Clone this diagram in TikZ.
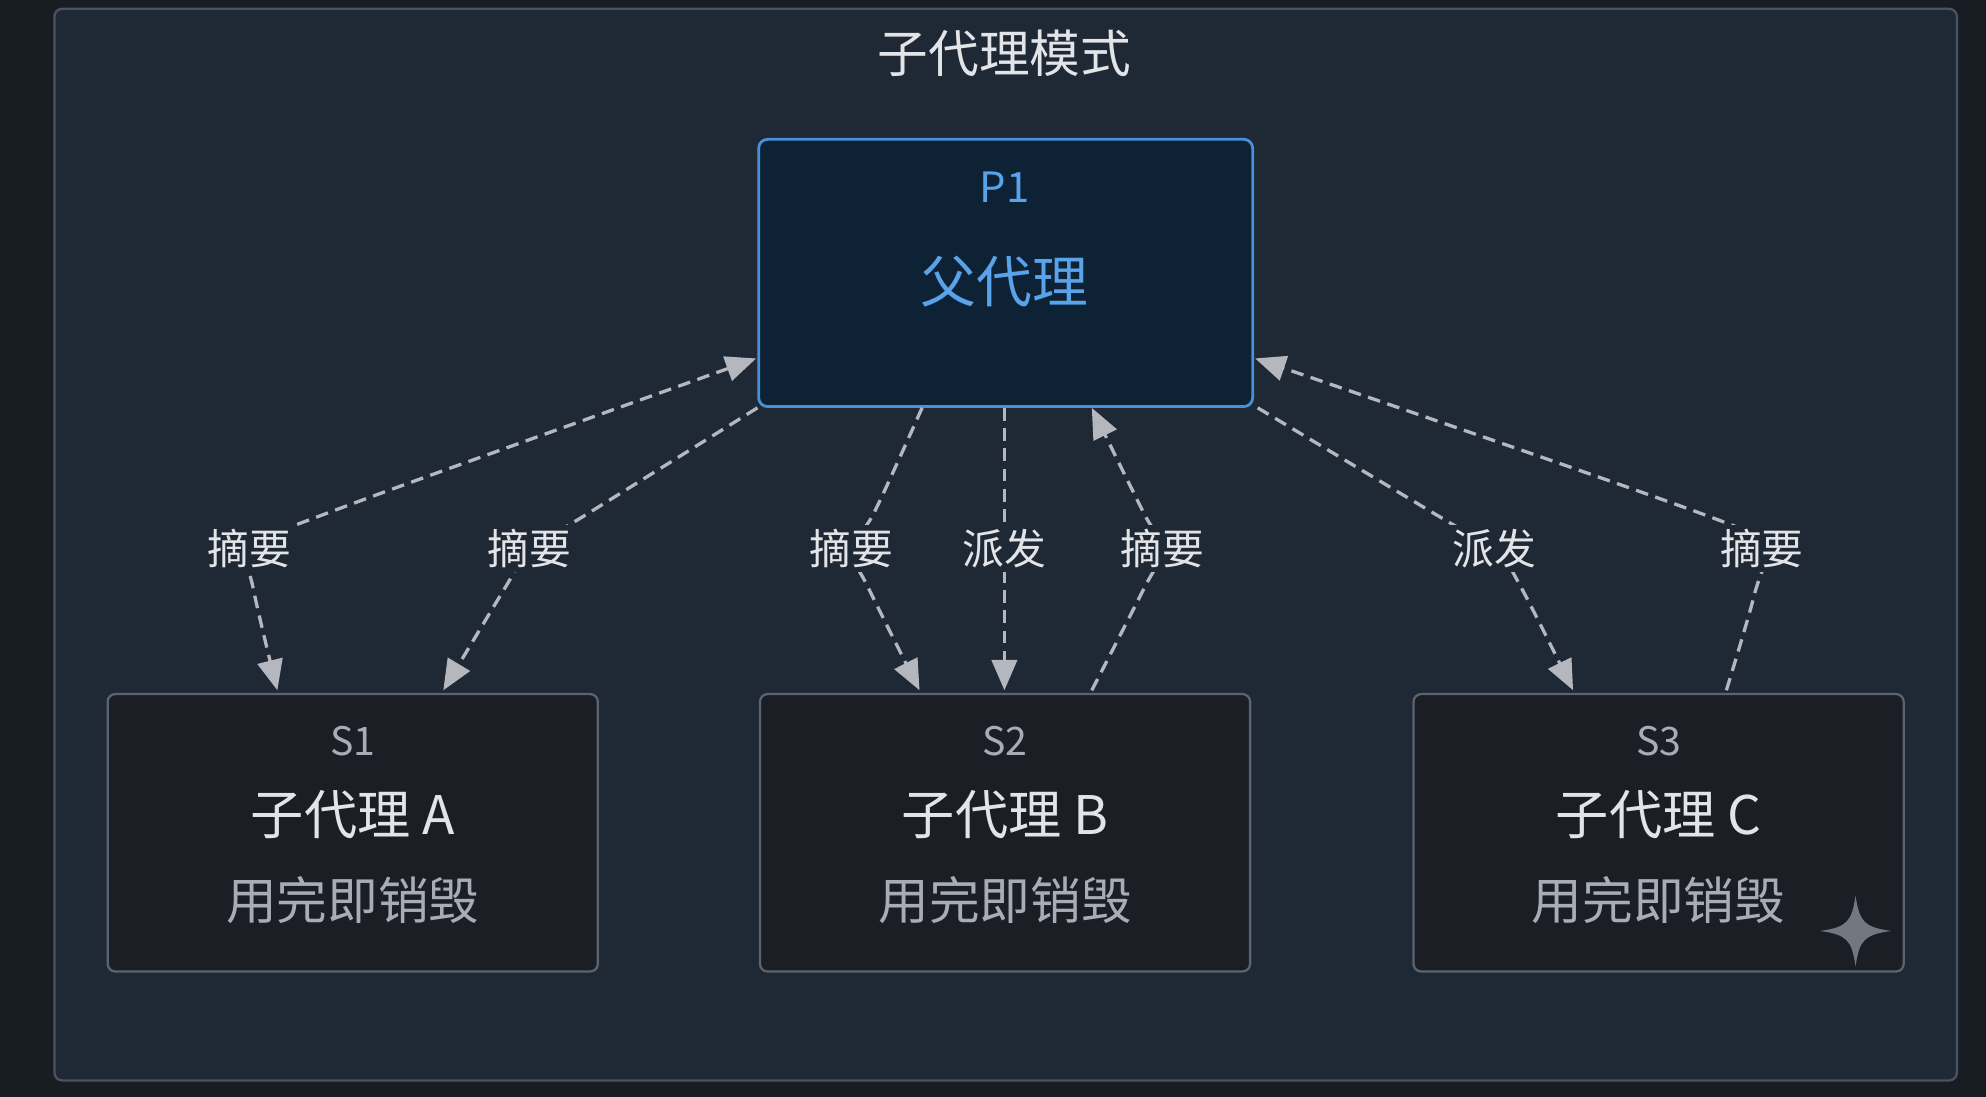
\documentclass[tikz,border=0pt]{standalone}
\usepackage{fontspec}
\setmainfont{Noto Sans CJK SC}
\usetikzlibrary{arrows.meta,shapes.geometric}
\definecolor{bgout}{HTML}{181D24}
\definecolor{frame}{HTML}{1F2935}
\definecolor{frameline}{HTML}{4A5361}
\definecolor{pfill}{HTML}{0E2236}
\definecolor{pline}{HTML}{4A90D9}
\definecolor{ptext}{HTML}{5AA2EA}
\definecolor{sfill}{HTML}{1B1F25}
\definecolor{sline}{HTML}{5A6370}
\definecolor{edge}{HTML}{B4B8BE}
\definecolor{txt}{HTML}{E2E4E8}
\definecolor{sub}{HTML}{A8ADB5}
\tikzset{
 sbox/.style={draw=sline,line width=1.8pt,fill=sfill,rounded corners=6pt},
 edg/.style={draw=edge,line width=2.6pt,dash pattern=on 10pt off 6pt,-{Triangle[length=24pt,width=20pt]}},
 edgb/.style={edg,{Triangle[length=24pt,width=20pt]}-{Triangle[length=24pt,width=20pt]}},
 lbl/.style={fill=frame,text=txt,font=\fontsize{33}{35}\selectfont,inner sep=3pt},
}
\begin{document}
\begin{tikzpicture}[x=1pt,y=-1pt]
\fill[bgout] (0,0) rectangle (1568,866);
\useasboundingbox (0,0) rectangle (1568,866);
\draw[frameline,line width=1.8pt,fill=frame,rounded corners=6pt] (43,7) rectangle (1545,853);
\node[text=txt,font=\fontsize{40}{42}\selectfont] (title) at (793,42) {子代理模式};
\draw[pline,line width=2.2pt,fill=pfill,rounded corners=7pt] (599,110) rectangle (989,321);
\node[text=ptext,font=\fontsize{33}{35}\selectfont] (p1t) at (793,148) {P1};
\node[text=ptext,font=\fontsize{44}{46}\selectfont] (p1) at (793,222) {父代理};
\foreach \n/\x/\l in {1/85/A,2/600/B,3/1116/C}{
 \draw[sbox] (\x,548) rectangle ++(387,219);
 \node[text=sub,font=\fontsize{31}{33}\selectfont] (s\n t) at (\x+193.5,585) {S\n};
 \node[text=txt,font=\fontsize{42}{44}\selectfont] (s\n) at (\x+193.5,643) {子代理 \l};
 \node[text=sub,font=\fontsize{40}{42}\selectfont] (s\n d) at (\x+193.5,711) {用完即销毁};
}
% star
\fill[sub!60!frame] (1465,707) .. controls (1468,728) and (1472,732) .. (1493,735) .. controls (1472,738) and (1468,742) .. (1465,763) .. controls (1462,742) and (1458,738) .. (1437,735) .. controls (1458,732) and (1462,728) .. (1465,707) -- cycle;
% edge coordinates
\coordinate (a1) at (597,283); \coordinate (a2) at (219,545);
\coordinate (b1) at (598,322); \coordinate (b2) at (350,545);
\coordinate (c1) at (728,322); \coordinate (c2) at (726,545);
\coordinate (d1) at (793,322); \coordinate (d2) at (793,545);
\coordinate (e1) at (862,545); \coordinate (e2) at (862,322);
\coordinate (f1) at (993,322); \coordinate (f2) at (1242,545);
\coordinate (g1) at (1363,545); \coordinate (g2) at (991,283);
\draw[edgb] plot[smooth,tension=0.6] coordinates {(a1) (240,412) (197,433) (200,465) (a2)};
\draw[edg] plot[smooth,tension=0.6] coordinates {(b1) (460,408) (418,433) (400,462) (b2)};
\draw[edg] plot[smooth,tension=0.6] coordinates {(c1) (690,405) (672,433) (686,465) (c2)};
\draw[edg] (d1) -- (d2);
\draw[edg] plot[smooth,tension=0.6] coordinates {(e1) (903,465) (918,433) (903,405) (e2)};
\draw[edg] plot[smooth,tension=0.6] coordinates {(f1) (1140,410) (1180,433) (1200,462) (f2)};
\draw[edg] plot[smooth,tension=0.6] coordinates {(g1) (1385,470) (1391,433) (1350,408) (g2)};
\node[lbl] (la) at (197,433) {摘要};
\node[lbl] (lb) at (418,433) {摘要};
\node[lbl] (lc) at (672,433) {摘要};
\node[lbl] (ld) at (793,433) {派发};
\node[lbl] (le) at (918,433) {摘要};
\node[lbl] (lf) at (1180,433) {派发};
\node[lbl] (lg) at (1391,433) {摘要};
\end{tikzpicture}
\end{document}
